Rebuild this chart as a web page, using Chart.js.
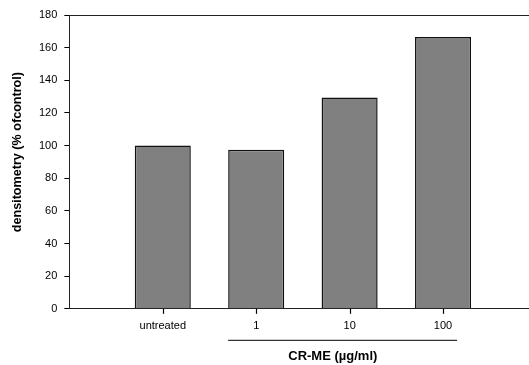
<!DOCTYPE html>
<html>
<head>
<meta charset="utf-8">
<script src="https://cdn.jsdelivr.net/npm/chart.js@4"></script>
<style>
  html, body { margin: 0; padding: 0; background: #fff; }
  #wrap { width: 529px; height: 365px; }
</style>
</head>
<body>
<div id="wrap"><canvas id="densChart" width="529" height="365"></canvas></div>
<script>
// categories and values
const categories = ['untreated', '1', '10', '100'];
const densitometry = [100, 97.5, 129.5, 166.5];
const yTicks = [0, 20, 40, 60, 80, 100, 120, 140, 160, 180];

const yLabel = 'densitometry (% ofcontrol)';
const groupLabel = 'CR-ME (µg/ml)';
const FONT = '"Liberation Sans", Arial, sans-serif';

// top frame line, x tick marks, bracket line and the two axis titles
const extras = {
    id: 'extras',
    afterDraw(chart) {
        const ctx = chart.ctx;
        const area = chart.chartArea;
        const x = chart.scales.x;
        const y = chart.scales.y;
        ctx.save();
        ctx.strokeStyle = '#222';
        ctx.lineWidth = 1;
        ctx.beginPath();
        ctx.moveTo(area.left, area.top + 0.5);
        ctx.lineTo(area.right, area.top + 0.5);
        ctx.stroke();

        ctx.strokeStyle = '#000';
        ctx.lineWidth = 1.2;
        categories.forEach((c, i) => {
            const px = Math.round(x.getPixelForValue(i + 1)) + 0.5;
            ctx.beginPath();
            ctx.moveTo(px, area.bottom);
            ctx.lineTo(px, area.bottom + 5);
            ctx.stroke();
        });

        // line spans from the "1" bar to just past the "100" tick
        ctx.lineWidth = 1;
        const x1 = x.getPixelForValue(1.7);
        const x2 = x.getPixelForValue(4.15);
        const yLine = area.bottom + 31.5;
        ctx.beginPath();
        ctx.moveTo(x1, yLine);
        ctx.lineTo(x2, yLine);
        ctx.stroke();

        ctx.fillStyle = '#000';
        ctx.font = 'bold 13px ' + FONT;
        ctx.textAlign = 'center';
        ctx.textBaseline = 'middle';
        ctx.fillText(groupLabel, x.getPixelForValue(2.82), area.bottom + 48);

        // y title sits a bit above the middle of the axis
        ctx.font = 'bold 12.6px ' + FONT;
        ctx.translate(18, y.getPixelForValue(96));
        ctx.rotate(-Math.PI / 2);
        ctx.fillText(yLabel, 0, 0);
        ctx.restore();
    }
};

new Chart(document.getElementById('densChart'), {
    type: 'bar',
    data: {
        datasets: [{
            data: densitometry.map((v, i) => ({ x: i + 1, y: v })),
            backgroundColor: '#808080',
            borderColor: '#111',
            borderWidth: 1.5,
            barPercentage: 0.6,
            categoryPercentage: 1
        }]
    },
    options: {
        responsive: false,
        animation: false,
        layout: { padding: { top: 15, right: 0, bottom: 25, left: 32 } },
        plugins: { legend: { display: false }, tooltip: { enabled: false } },
        scales: {
            x: {
                type: 'linear',
                offset: false,
                min: 0,
                max: 4.92,
                afterBuildTicks: (scale) => {
                    scale.ticks = categories.map((c, i) => ({ value: i + 1 }));
                },
                ticks: {
                    callback: (v) => categories[v - 1],
                    color: '#000',
                    font: { family: FONT, size: 11 },
                    padding: 7,
                    maxRotation: 0
                },
                grid: { offset: false, drawOnChartArea: false, drawTicks: true, tickLength: 4, tickColor: 'rgba(0,0,0,0)' },
                border: { color: '#222', width: 1 }
            },
            y: {
                min: 0,
                max: 180,
                afterBuildTicks: (scale) => {
                    scale.ticks = yTicks.map(v => ({ value: v }));
                },
                ticks: {
                    color: '#000',
                    font: { family: FONT, size: 11 },
                    padding: 7
                },
                grid: { drawOnChartArea: false, drawTicks: true, tickLength: 5, color: '#000' },
                border: { color: '#222', width: 1 }
            }
        }
    },
    plugins: [extras]
});
</script>
</body>
</html>
